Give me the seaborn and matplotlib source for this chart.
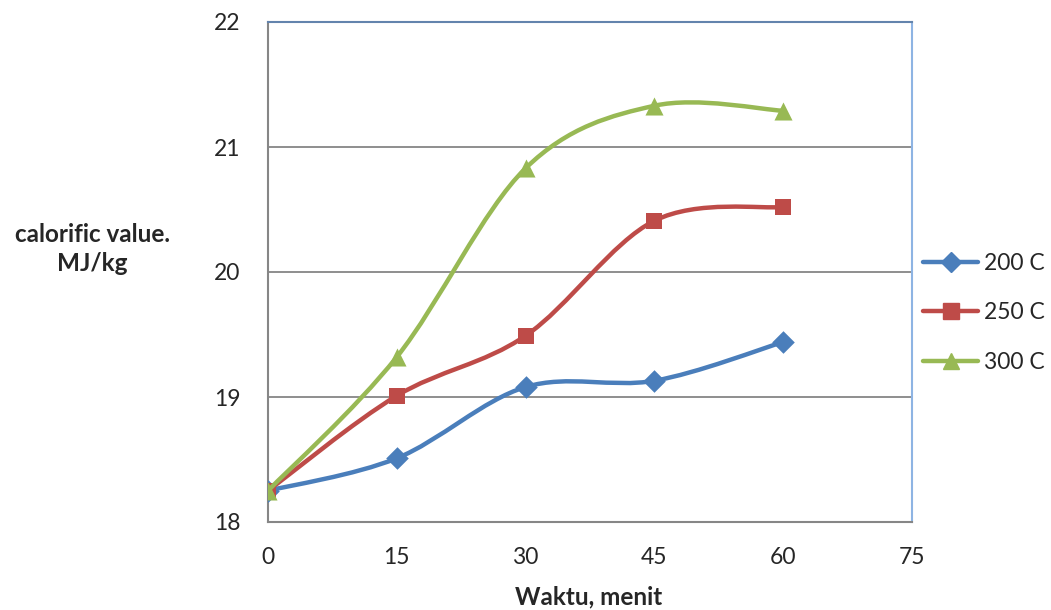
import numpy as np
import pandas as pd
import matplotlib
matplotlib.use("Agg")
import matplotlib.pyplot as plt
from matplotlib.path import Path
from matplotlib.patches import PathPatch
from matplotlib.lines import Line2D
import seaborn as sns

# data
waktu = [0, 15, 30, 45, 60]
t200 = [18.25, 18.51, 19.08, 19.13, 19.44]
t250 = [18.25, 19.01, 19.49, 20.41, 20.52]
t300 = [18.25, 19.32, 20.83, 21.33, 21.29]
labels = ["200 C", "250 C", "300 C"]
colors = ["#4a7ebb", "#be4b48", "#98b954"]
markers = ["D", "s", "^"]
msizes = [11.5, 12, 13]

df = pd.DataFrame({
    "waktu": waktu * 3,
    "nilai": t200 + t250 + t300,
    "suhu": [l for l in labels for _ in waktu],
})

sns.set_style("white")
plt.rcParams["font.family"] = ["Lato", "DejaVu Sans"]

fig = plt.figure(figsize=(10.51, 6.10), dpi=100)
ax = fig.add_axes([268 / 1051, 88 / 610, 644 / 1051, 500 / 610])


def smooth_path(x, y):
    # Excel-like smoothed line: Catmull-Rom converted to cubic bezier segments
    p = np.column_stack([x, y]).astype(float)
    pts = np.vstack([p[0], p, p[-1]])
    verts = [p[0]]
    codes = [Path.MOVETO]
    for i in range(1, len(pts) - 2):
        c1 = pts[i] + (pts[i + 1] - pts[i - 1]) / 6
        c2 = pts[i + 1] - (pts[i + 2] - pts[i]) / 6
        verts += [c1, c2, pts[i + 1]]
        codes += [Path.CURVE4] * 3
    return Path(verts, codes)


for i, lab in enumerate(labels):
    sub = df[df["suhu"] == lab]
    ax.add_patch(PathPatch(smooth_path(sub["waktu"], sub["nilai"]), fill=False,
                           edgecolor=colors[i], lw=3.2, capstyle="round",
                           joinstyle="round", zorder=3 + i))
    sns.scatterplot(data=sub, x="waktu", y="nilai", marker=markers[i],
                    color=colors[i], s=msizes[i] ** 2, linewidth=0,
                    zorder=3.5 + i, ax=ax, legend=False)

ax.set_xlim(0, 75)
ax.set_ylim(18, 22)
ax.set_xticks([0, 15, 30, 45, 60, 75])
ax.set_yticks([18, 19, 20, 21, 22])
ax.set_xlabel("")
ax.set_ylabel("")
ax.yaxis.grid(True, color="#868686", lw=1.3)
ax.set_axisbelow(True)
ax.tick_params(axis="both", direction="out", length=8, width=1.3,
               color="#868686", labelsize=16.5)
ax.tick_params(axis="y", pad=12)
ax.tick_params(axis="x", pad=10)
for s in ["left", "bottom"]:
    ax.spines[s].set_color("#868686")
    ax.spines[s].set_linewidth(1.5)
ax.spines["top"].set_color("#6384ad")
ax.spines["top"].set_linewidth(1.5)
ax.spines["right"].set_color("#8eb4e3")
ax.spines["right"].set_linewidth(1.5)

fig.text(92 / 1051, 1 - 249 / 610, "calorific value.\nMJ/kg", ha="center",
         va="center", multialignment="center", fontsize=17.5, fontweight="bold",
         linespacing=1.3)
fig.text(589 / 1051, 1 - 597 / 610, "Waktu, menit", ha="center", va="center",
         fontsize=17.5, fontweight="bold")

handles = [Line2D([], [], color=colors[i], lw=3.2, marker=markers[i],
                  markersize=msizes[i] - 1, solid_capstyle="round")
           for i in range(3)]
fig.legend(handles, labels, loc="center left",
           bbox_to_anchor=(923 / 1051, 1 - 313 / 610), frameon=False,
           fontsize=16.5, handlelength=2.4, handletextpad=0.25,
           labelspacing=1.25, borderpad=0, borderaxespad=0)

fig.savefig("out.png", dpi=100)
